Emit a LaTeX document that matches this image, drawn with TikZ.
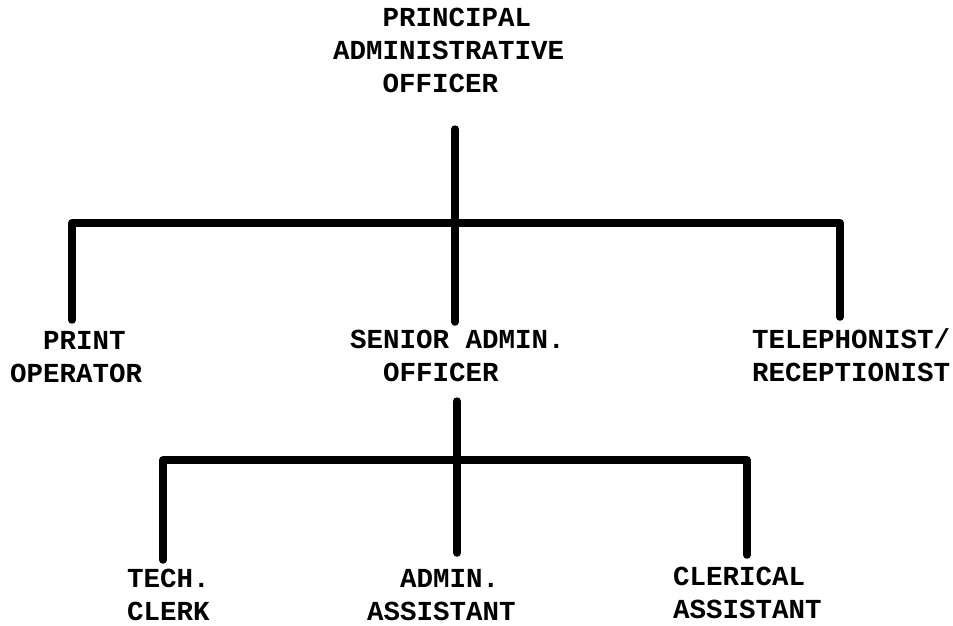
\documentclass[tikz,border=0pt]{standalone}
\usepackage{fontspec}
\setmonofont{Liberation Mono}
\usepackage{tikz}

\begin{document}
\begin{tikzpicture}[x=1pt,y=-1pt]
\tikzstyle{every node}=[inner sep=0pt, anchor=north west, align=left, font=\ttfamily\bfseries\fontsize{27.5}{33}\selectfont]
\tikzstyle{link}=[line width=7.5pt, line join=round, line cap=round]
\useasboundingbox (0,0) rectangle (953,626);
\node (pao) at (333,8) {\hspace*{1.8em}PRINCIPAL\\ADMINISTRATIVE\\\hspace*{1.8em}OFFICER};
\node (print) at (10,331) {\hspace*{1.2em}PRINT\\OPERATOR};
\node (sao) at (350,330) {SENIOR ADMIN.\\\hspace*{1.2em}OFFICER};
\node (tel) at (752,328) {TELEPHONIST/\\RECEPTIONIST};
\node (tech) at (127,569) {TECH.\\CLERK};
\node (adm) at (367,569) {\hspace*{1.2em}ADMIN.\\ASSISTANT};
\node (cler) at (673,567) {CLERICAL\\ASSISTANT};
\coordinate (bus1) at (455,223);
\coordinate (bus1w) at (72,223);
\coordinate (bus1e) at (840,223);
\coordinate (bus2) at (457,460);
\coordinate (bus2w) at (163,460);
\coordinate (bus2e) at (747,460);
\draw[link, shorten <=36pt, shorten >=8pt] (pao.south -| bus1) -- (sao.north -| bus1);
\draw[link, shorten <=11pt, shorten >=11pt] (print.north -| bus1w) |- (bus1e) -- (tel.north -| bus1e);
\draw[link, shorten <=19pt, shorten >=16pt] (sao.south -| bus2) -- (adm.north -| bus2);
\draw[link, shorten <=9pt, shorten >=12pt] (tech.north -| bus2w) |- (bus2e) -- (cler.north -| bus2e);
\end{tikzpicture}
\end{document}
